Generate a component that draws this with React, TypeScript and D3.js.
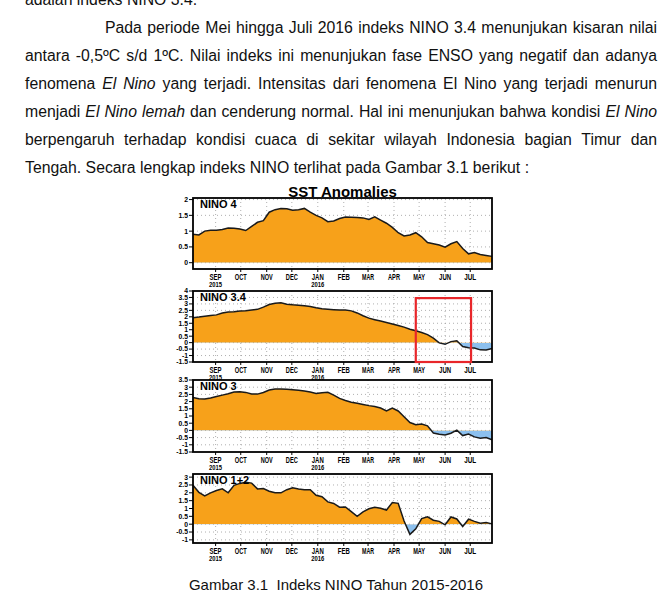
import React from 'react';
import * as d3 from 'd3';

const W = 664;
const H = 594;

// ---------- data ----------
const startDate = new Date(2015, 7, 5);
const endDate = new Date(2016, 6, 27);

const nino4 = [0.9, 0.88, 1.0, 1.03, 1.03, 1.05, 1.1, 1.09, 1.07, 1.02, 1.15, 1.28, 1.33, 1.6, 1.68, 1.72, 1.71, 1.66, 1.68, 1.72, 1.6, 1.5, 1.42, 1.3, 1.32, 1.4, 1.45, 1.44, 1.43, 1.42, 1.37, 1.45, 1.35, 1.25, 1.12, 0.95, 0.85, 0.88, 0.95, 0.82, 0.64, 0.6, 0.56, 0.49, 0.6, 0.67, 0.45, 0.28, 0.32, 0.26, 0.23, 0.2];
const nino34 = [1.93, 1.98, 2.05, 2.1, 2.15, 2.3, 2.38, 2.4, 2.45, 2.47, 2.52, 2.58, 2.75, 2.95, 3.05, 3.08, 2.98, 2.93, 2.9, 2.85, 2.8, 2.7, 2.62, 2.58, 2.55, 2.53, 2.52, 2.46, 2.3, 2.08, 1.9, 1.78, 1.67, 1.56, 1.45, 1.32, 1.2, 1.04, 0.92, 0.78, 0.62, 0.35, -0.02, -0.13, 0.08, 0.15, -0.3, -0.4, -0.42, -0.56, -0.57, -0.45];
const nino3 = [2.28, 2.2, 2.18, 2.25, 2.35, 2.45, 2.55, 2.66, 2.68, 2.64, 2.53, 2.52, 2.63, 2.8, 2.87, 2.87, 2.86, 2.83, 2.79, 2.74, 2.66, 2.57, 2.62, 2.65, 2.45, 2.22, 2.08, 1.96, 1.88, 1.8, 1.72, 1.66, 1.55, 1.36, 1.55, 1.35, 0.95, 0.55, 0.4, 0.44, 0.32, -0.18, -0.26, -0.32, -0.2, 0.02, -0.36, -0.25, -0.45, -0.54, -0.5, -0.65];
const nino12 = [2.48, 2.03, 1.8, 2.0, 2.15, 2.25, 2.0, 2.48, 2.6, 2.68, 2.62, 2.25, 2.27, 2.1, 2.0, 2.0, 2.2, 2.32, 2.25, 2.2, 2.2, 1.84, 1.75, 1.42, 1.32, 1.08, 1.1, 0.8, 0.5, 0.78, 0.98, 1.08, 1.02, 0.9, 1.38, 1.33, 0.2, -0.65, -0.3, 0.36, 0.47, 0.25, 0.18, -0.04, 0.46, 0.33, -0.15, 0.32, 0.18, 0.06, 0.1, 0.02];

const monthLabels = ['SEP', 'OCT', 'NOV', 'DEC', 'JAN', 'FEB', 'MAR', 'APR', 'MAY', 'JUN', 'JUL'];
const monthDates = [
  new Date(2015, 8, 1), new Date(2015, 9, 1), new Date(2015, 10, 1), new Date(2015, 11, 1),
  new Date(2016, 0, 1), new Date(2016, 1, 1), new Date(2016, 2, 1), new Date(2016, 3, 1),
  new Date(2016, 4, 1), new Date(2016, 5, 1), new Date(2016, 6, 1),
];
const yearLabels: Record<string, string> = { SEP: '2015', JAN: '2016' };

const ticks4 = [0, 0.5, 1, 1.5, 2];
const ticks34 = [-1.5, -1, -0.5, 0, 0.5, 1, 1.5, 2, 2.5, 3, 3.5, 4];
const ticks3 = [-1.5, -1, -0.5, 0, 0.5, 1, 1.5, 2, 2.5, 3, 3.5];
const ticks12 = [-1, -0.5, 0, 0.5, 1, 1.5, 2, 2.5, 3];

const panelNames = ['NINO 4', 'NINO 3.4', 'NINO 3', 'NINO 1+2'];
const panelSeries = [nino4, nino34, nino3, nino12];
const panelTicks = [ticks4, ticks34, ticks3, ticks12];
const panelDomains: [number, number][] = [[-0.2, 2.05], [-1.5, 4], [-1.5, 3.5], [-1.2, 3.2]];

// highlighted box on NINO 3.4 (dates / values)
const boxDates = [new Date(2016, 3, 27), new Date(2016, 6, 2)];
const boxValues = [-1.5, 3.45];

type Seg = { t: string; i?: boolean };
const paraLines: Seg[][] = [
  [{ t: 'adalah indeks NINO 3.4.' }],
  [{ t: 'Pada periode Mei hingga Juli 2016 indeks NINO 3.4 menunjukan kisaran nilai' }],
  [{ t: 'antara -0,5ºC s/d 1ºC. Nilai indeks ini menunjukan fase ENSO yang negatif dan adanya' }],
  [{ t: 'fenomena ' }, { t: 'El Nino', i: true }, { t: ' yang terjadi. Intensitas dari fenomena El Nino yang terjadi menurun' }],
  [{ t: 'menjadi ' }, { t: 'El Nino lemah', i: true }, { t: ' dan cenderung normal. Hal ini menunjukan bahwa kondisi ' }, { t: 'El Nino', i: true }],
  [{ t: 'berpengaruh terhadap kondisi cuaca di sekitar wilayah Indonesia bagian Timur dan' }],
  [{ t: 'Tengah. Secara lengkap indeks NINO terlihat pada Gambar 3.1 berikut :' }],
];
const justified = [false, true, true, true, true, true, false];
const titleText = 'SST Anomalies';
const captionText = 'Gambar 3.1\u00A0 Indeks NINO Tahun 2015-2016';

// ---------- layout ----------
const FONT = '"Liberation Sans", Arial, sans-serif';
const BODY_SIZE = 15.8;
const TEXT_L = 25;
const TEXT_R = 657;
const INDENT = 105;
const LINE0 = 5;
const LINE_H = 28;

const PLOT_L = 193;
const PLOT_R = 492;
const panelTop = [198, 291, 380, 474];
const panelBottom = [269, 362, 452, 543];

const ORANGE = '#F7A11A';
const BLUE = '#8CC0EE';

let ctx: CanvasRenderingContext2D | null = null;
function measure(text: string, italic: boolean) {
  if (!ctx) ctx = document.createElement('canvas').getContext('2d');
  if (!ctx) return text.length * BODY_SIZE * 0.5;
  ctx.font = `${italic ? 'italic ' : ''}${BODY_SIZE}px ${FONT}`;
  return ctx.measureText(text).width;
}

function layoutLine(segs: Seg[], k: number) {
  const words: { t: string; i: boolean }[] = [];
  segs.forEach((s) => {
    s.t.split(' ').forEach((w) => {
      if (w.length) words.push({ t: w, i: !!s.i });
    });
  });
  const widths = words.map((w) => measure(w.t, w.i));
  const left = k === 1 ? INDENT : TEXT_L;
  const space = measure(' ', false);
  let gap = space;
  if (justified[k] && words.length > 1) {
    const total = d3.sum(widths);
    gap = (TEXT_R - left - total) / (words.length - 1);
  }
  let xPos = left;
  return words.map((w, j) => {
    const out = { ...w, x: xPos };
    xPos += widths[j] + gap;
    return out;
  });
}

function Panel({ idx, x, dates }: { idx: number; x: d3.ScaleTime<number, number>; dates: Date[] }) {
  const top = panelTop[idx];
  const bottom = panelBottom[idx];
  const values = panelSeries[idx];
  const y = d3.scaleLinear().domain(panelDomains[idx]).range([bottom, top]);
  const y0 = y(0);
  const area = d3.area<number>().x((_, i) => x(dates[i])).y0(y0).y1((d) => y(d));
  const line = d3.line<number>().x((_, i) => x(dates[i])).y((d) => y(d));
  const ticks = panelTicks[idx];
  const idP = `pos${idx}`;
  const idN = `neg${idx}`;
  return (
    <g>
      <defs>
        <clipPath id={idP}>
          <rect x={PLOT_L} y={top} width={PLOT_R - PLOT_L} height={y0 - top} />
        </clipPath>
        <clipPath id={idN}>
          <rect x={PLOT_L} y={y0} width={PLOT_R - PLOT_L} height={bottom - y0} />
        </clipPath>
      </defs>
      {ticks.filter((t) => y(t) > top + 1 && y(t) < bottom - 1).map((t) => (
        <line key={'h' + t} x1={PLOT_L} x2={PLOT_R} y1={y(t)} y2={y(t)} stroke="#9a9a9a" strokeWidth={0.8} strokeDasharray="1 3" />
      ))}
      {monthDates.map((d, j) => (
        <line key={'v' + j} x1={x(d)} x2={x(d)} y1={top} y2={bottom} stroke="#9a9a9a" strokeWidth={0.8} strokeDasharray="1 3" />
      ))}
      <path d={area(values) || ''} fill={ORANGE} clipPath={`url(#${idP})`} />
      <path d={area(values) || ''} fill={BLUE} clipPath={`url(#${idN})`} />
      <path d={line(values) || ''} fill="none" stroke="#1a1a1a" strokeWidth={1.5} />
      <rect x={PLOT_L} y={top} width={PLOT_R - PLOT_L} height={bottom - top} fill="none" stroke="#000" strokeWidth={1.8} />
      {ticks.map((t) => (
        <g key={'t' + t}>
          <line x1={PLOT_L - 4} x2={PLOT_L} y1={y(t)} y2={y(t)} stroke="#000" strokeWidth={1} />
          <text x={PLOT_L - 5} y={y(t)} dy="0.35em" textAnchor="end" fontFamily={FONT} fontWeight="bold" fontSize={6.8} fill="#000">
            {String(t)}
          </text>
        </g>
      ))}
      {monthDates.map((d, j) => (
        <g key={'m' + j}>
          <line x1={x(d)} x2={x(d)} y1={bottom} y2={bottom + 3} stroke="#000" strokeWidth={1} />
          <text x={x(d)} y={bottom + 10.5} textAnchor="middle" fontFamily={FONT} fontWeight="bold" fontSize={8.5} textLength={12} lengthAdjust="spacingAndGlyphs" fill="#000">
            {monthLabels[j]}
          </text>
          {yearLabels[monthLabels[j]] && (
            <text x={x(d)} y={bottom + 17.5} textAnchor="middle" fontFamily={FONT} fontWeight="bold" fontSize={7} textLength={13} lengthAdjust="spacingAndGlyphs" fill="#000">
              {yearLabels[monthLabels[j]]}
            </text>
          )}
        </g>
      ))}
      <text x={PLOT_L + 7} y={top + 9.5} fontFamily={FONT} fontWeight="bold" fontSize={11} fill="#000">
        {panelNames[idx]}
      </text>
    </g>
  );
}

export default function App() {
  const x = d3.scaleTime().domain([startDate, endDate]).range([PLOT_L, PLOT_R]);
  const dates = nino4.map((_, i) => d3.timeDay.offset(startDate, 7 * i));
  const y34 = d3.scaleLinear().domain(panelDomains[1]).range([panelBottom[1], panelTop[1]]);
  const lines = paraLines.map((segs, k) => layoutLine(segs, k));
  const bx0 = x(boxDates[0]);
  const bx1 = x(boxDates[1]);
  const by0 = y34(boxValues[1]);
  const by1 = y34(boxValues[0]);
  return (
    <svg width={W} height={H} viewBox={`0 0 ${W} ${H}`} style={{ position: 'absolute', left: 0, top: 0, display: 'block' }}>
      <rect width={W} height={H} fill="#fff" />
      {lines.map((ws, k) => (
        <g key={'l' + k}>
          {ws.map((w, j) => (
            <text key={j} x={w.x} y={LINE0 + LINE_H * k} fontFamily={FONT} fontSize={BODY_SIZE} fontStyle={w.i ? 'italic' : 'normal'} fill="#111">
              {w.t}
            </text>
          ))}
        </g>
      ))}
      <text x={(PLOT_L + PLOT_R) / 2} y={197} textAnchor="middle" fontFamily={FONT} fontWeight="bold" fontSize={15} fill="#000">
        {titleText}
      </text>
      {panelNames.map((_, idx) => (
        <Panel key={idx} idx={idx} x={x} dates={dates} />
      ))}
      <rect x={bx0} y={by0} width={bx1 - bx0} height={by1 - by0} fill="none" stroke="#E8262A" strokeWidth={2.2} />
      <text x={336} y={590} textAnchor="middle" fontFamily={FONT} fontSize={15} fill="#111">
        {captionText}
      </text>
    </svg>
  );
}
